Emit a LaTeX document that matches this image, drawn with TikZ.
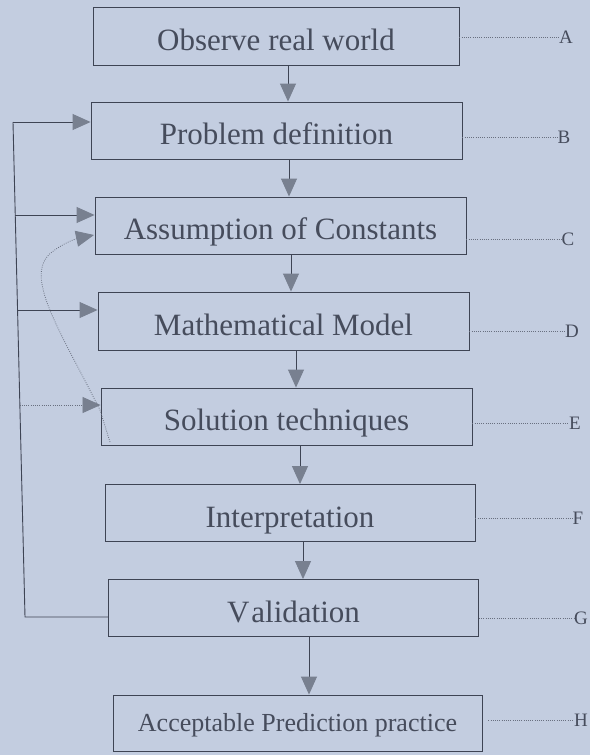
\documentclass[tikz,border=0pt]{standalone}
\usepackage{fontspec}
\setmainfont{Liberation Serif}
\usetikzlibrary{arrows.meta}
\definecolor{bg}{RGB}{195,205,224}
\definecolor{ink}{RGB}{62,68,84}
\definecolor{txt}{RGB}{70,76,92}
\definecolor{arr}{RGB}{120,128,144}
\definecolor{dotc}{RGB}{105,112,128}
\tikzset{
  x=1pt, y=-1pt,
  box/.style={draw=ink, line width=0.9pt, inner sep=0pt, text=txt,
    text height=28pt, text depth=0pt,
    font=\fontsize{31}{36}\selectfont},
  smallbox/.style={box, text height=16pt, font=\fontsize{26}{30}\selectfont},
  flow/.style={draw=ink, line width=0.9pt, -{Triangle[length=18pt,width=16pt,color=arr]}},
  dotline/.style={draw=dotc, line width=0.8pt, dash pattern=on 0.8pt off 1.4pt},
  dotarrow/.style={dotline, -{Triangle[length=18pt,width=16pt,color=arr]}},
  letter/.style={text=txt, inner sep=0pt, font=\fontsize{19}{22}\selectfont},
}
\begin{document}
\begin{tikzpicture}
\fill[bg] (0,0) rectangle (590,755);
\useasboundingbox (0,0) rectangle (590,755);

% boxes
\node[box, minimum width=366pt, minimum height=58pt] (A) at (276,36) {Observe real world};
\node[box, minimum width=371pt, minimum height=57pt] (B) at (276.5,130.5) {Problem definition};
\node[box, minimum width=371pt, minimum height=57pt] (C) at (280.5,225.5) {Assumption of Constants};
\node[box, minimum width=371pt, minimum height=58pt] (D) at (283.5,321) {Mathematical Model};
\node[box, minimum width=371pt, minimum height=57pt] (E) at (286.5,416.5) {Solution techniques};
\node[box, minimum width=370pt, minimum height=57pt] (F) at (290,513) {Interpretation};
\node[box, minimum width=370pt, minimum height=57pt] (G) at (293.5,608) {V\kern2pt alidation};
\node[smallbox, minimum width=369pt, minimum height=56pt] (H) at (297.5,723) {Acceptable Prediction practice};

% vertical flow arrows
\draw[flow] (A.south -| 288,0) -- (B.north -| 288,0);
\draw[flow] (B.south -| 289,0) -- (C.north -| 289,0);
\draw[flow] (C.south -| 291,0) -- (D.north -| 291,0);
\draw[flow] (D.south -| 296,0) -- (E.north -| 296,0);
\draw[flow] (E.south -| 300,0) -- (F.north -| 300,0);
\draw[flow] (F.south -| 303,0) -- (G.north -| 303,0);
\draw[flow] (G.south -| 309,0) -- (H.north -| 309,0);

% feedback loop on the left
\coordinate (lb) at (25,617);
\coordinate (lt) at (13,122);
\coordinate (lc) at (15.2,215);
\coordinate (ld) at (17.4,310);
\coordinate (le) at (19.6,405);
\draw[ink, line width=0.9pt] (G.west |- lb) -- (lb) -- (lt);
\draw[flow] (lt) -- (lt -| B.west);
\draw[flow] (lc) -- (lc -| C.west);
\draw[flow] (ld) -- (ld -| D.west);
\draw[dotarrow] (le) -- (le -| E.west);

% dotted curve from solution techniques back to assumptions
\coordinate (es) at (110,442);
\coordinate (em) at (100,410);
\coordinate (ce) at (94,235);
\draw[dotarrow] (es) -- (em) .. controls (60,330) and (22,275) .. (52,252) .. controls (62,244) and (75,239) .. (ce);

% dotted leaders to letters
\node[letter] (LA) at (566,37) {A};
\node[letter] (LB) at (564,137) {B};
\node[letter] (LC) at (568,239) {C};
\node[letter] (LD) at (572,331) {D};
\node[letter] (LE) at (575,423) {E};
\node[letter] (LF) at (578,518) {F};
\node[letter] (LG) at (581,618) {G};
\node[letter] (LH) at (581,720) {H};
\draw[dotline] (A.east |- LA) -- (LA.west);
\draw[dotline] (B.east |- LB) -- (LB.west);
\draw[dotline] (C.east |- LC) -- (LC.west);
\draw[dotline] (D.east |- LD) -- (LD.west);
\draw[dotline] (E.east |- LE) -- (LE.west);
\draw[dotline] (F.east |- LF) -- (LF.west);
\draw[dotline] (G.east |- LG) -- (LG.west);
\draw[dotline] ([xshift=6pt]H.east |- LH) -- (LH.west);
\end{tikzpicture}
\end{document}
